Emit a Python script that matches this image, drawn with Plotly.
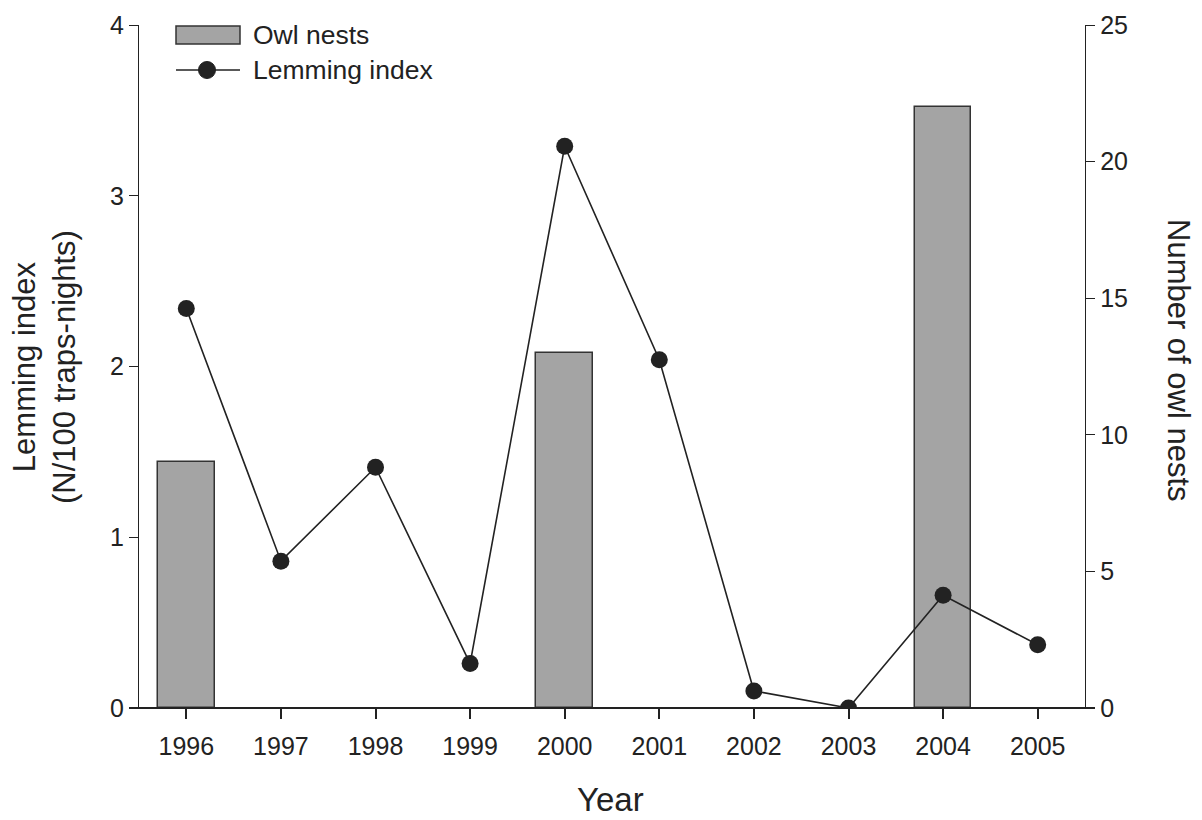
import plotly.graph_objects as go

years = [1996, 1997, 1998, 1999, 2000, 2001, 2002, 2003, 2004, 2005]
lemming_index = [2.34, 0.86, 1.41, 0.26, 3.29, 2.04, 0.10, 0.00, 0.66, 0.37]
owl_nests = [9, 0, 0, 0, 13, 0, 0, 0, 22, 0]
left_ticks = [0, 1, 2, 3, 4]
right_ticks = [0, 5, 10, 15, 20, 25]

FONT = "Liberation Sans, Arial, sans-serif"
INK = "#222222"

# plot area in viewport pixels (body margin removed below)
L, R, T, B = 139, 1085, 25, 708
W, H = 1202, 820
pw, ph = R - L, B - T


def px(x):
    return (x - L) / pw


def py(y):
    return (B - y) / ph


fig = go.Figure()

fig.add_trace(go.Bar(
    x=years, y=owl_nests, name="Owl nests", yaxis="y",
    width=0.6,
    marker=dict(color="#a4a4a4",
                line=dict(color="#333333",
                          width=[1.5 if v > 0 else 0 for v in owl_nests])),
    showlegend=False,
))

fig.add_trace(go.Scatter(
    x=years, y=lemming_index, name="Lemming index", yaxis="y2",
    mode="lines+markers",
    line=dict(color=INK, width=1.6),
    marker=dict(color=INK, size=17, symbol="circle"),
    showlegend=False,
))

fig.update_layout(
    width=W, height=H, autosize=False,
    margin=dict(l=L, r=W - R, t=T, b=H - B),
    paper_bgcolor="white", plot_bgcolor="white",
    font=dict(family=FONT, size=25, color=INK),
    bargap=0,
    xaxis=dict(
        range=[1995.5, 2005.5],
        tickvals=years, ticktext=[str(y) for y in years],
        ticks="outside", ticklen=10, tickwidth=1.5, tickcolor=INK,
        showline=False, showgrid=False, zeroline=False,
        tickfont=dict(size=25), ticklabelstandoff=6,
    ),
    yaxis=dict(
        side="right", range=[0, 25], tickvals=right_ticks,
        ticks="outside", ticklen=9, tickwidth=1.3, tickcolor=INK,
        showline=True, linecolor=INK, linewidth=1.3,
        showgrid=False, zeroline=False, tickfont=dict(size=25),
    ),
    yaxis2=dict(
        side="left", overlaying="y", range=[0, 4], tickvals=left_ticks,
        ticks="outside", ticklen=9, tickwidth=1.3, tickcolor=INK,
        showline=True, linecolor=INK, linewidth=1.3,
        showgrid=False, zeroline=False, tickfont=dict(size=25),
    ),
)

# x-axis baseline extending slightly past both y axes
fig.add_shape(type="line", xref="paper", yref="paper",
              x0=px(129), x1=px(1095), y0=0, y1=0,
              line=dict(color=INK, width=2))

# custom legend
fig.add_shape(type="rect", xref="paper", yref="paper",
              x0=px(176), x1=px(240), y0=py(44), y1=py(26),
              fillcolor="#a4a4a4", line=dict(color="#333333", width=1.5))
fig.add_shape(type="line", xref="paper", yref="paper",
              x0=px(176), x1=px(240), y0=py(70), y1=py(70),
              line=dict(color=INK, width=1.6))
fig.add_shape(type="circle", xref="paper", yref="paper",
              x0=px(198.5), x1=px(215.5), y0=py(78.5), y1=py(61.5),
              fillcolor=INK, line=dict(color=INK, width=1))
fig.add_annotation(xref="paper", yref="paper", x=px(251), y=py(35),
                   text="Owl nests", showarrow=False, xanchor="left",
                   yanchor="middle", font=dict(size=26.5, color=INK))
fig.add_annotation(xref="paper", yref="paper", x=px(251), y=py(70),
                   text="Lemming index", showarrow=False, xanchor="left",
                   yanchor="middle", font=dict(size=26.5, color=INK))

# axis titles
fig.add_annotation(xref="paper", yref="paper", x=px(44), y=py(367),
                   text="Lemming index<br>(N/100 traps-nights)",
                   textangle=-90, showarrow=False, xanchor="center",
                   yanchor="middle", font=dict(size=31, color=INK))
fig.add_annotation(xref="paper", yref="paper", x=px(1179), y=py(360),
                   text="Number of owl nests",
                   textangle=90, showarrow=False, xanchor="center",
                   yanchor="middle", font=dict(size=31, color=INK))
fig.add_annotation(xref="paper", yref="paper", x=px(610), y=py(799),
                   text="Year", showarrow=False, xanchor="center",
                   yanchor="middle", font=dict(size=33, color=INK))

fig.write_html(
    "out.html",
    config={"displayModeBar": False},
    post_script="document.body.style.margin='0';document.body.style.overflow='hidden';",
)
